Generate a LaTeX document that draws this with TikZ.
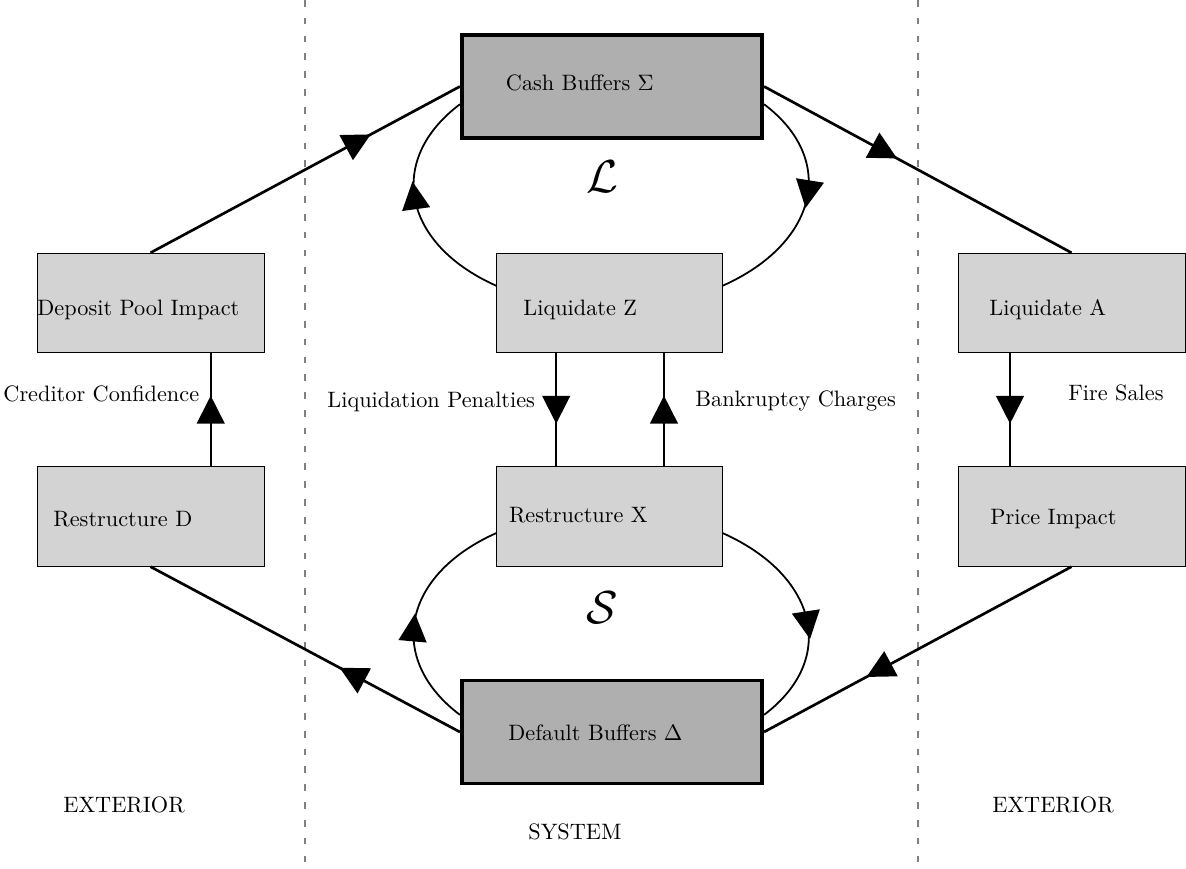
\documentclass[tikz,border=0pt]{standalone}
\usetikzlibrary{arrows.meta,decorations.markings}

\definecolor{boxgray}{RGB}{211,211,211}
\definecolor{buffergray}{RGB}{175,175,175}

\tikzset{
  box/.style={draw, fill=boxgray, minimum width=3.58cm, minimum height=1.57cm, inner sep=0pt},
  buffer/.style={draw, ultra thick, fill=buffergray, minimum width=4.74cm, minimum height=1.63cm, inner sep=0pt},
  txt/.style={anchor=west, inner sep=0pt},
  divider/.style={gray, line width=0.6pt, dash pattern=on 3pt off 5pt},
  midarrow/.style={postaction={decorate}, decoration={markings,
    mark=at position #1 with {\arrow[xshift=0.22cm]{Triangle[length=0.44cm, width=0.44cm]}}}},
}

\begin{document}
\begin{tikzpicture}

    \useasboundingbox (0,0) rectangle (18.707,-13.707);

    % system / exterior
    \draw[divider] (4.811,0) coordinate(d0) -- (4.811,-13.707) coordinate(d1);
    \draw[divider] (14.48,0) coordinate(d2) -- (14.48,-13.707) coordinate(d3);

    \node[buffer] (cash) at (9.653,-1.364) {};
    \node[buffer] (default) at (9.653,-11.546) {};
    \node[box, minimum width=3.55cm] (liqZ) at (9.613,-4.779) {};
    \node[box, minimum width=3.55cm] (restrX) at (9.613,-8.147) {};
    \node[box] (deposit) at (2.374,-4.779) {};
    \node[box] (restrD) at (2.374,-8.147) {};
    \node[box] (liqA) at (16.901,-4.779) {};
    \node[box] (price) at (16.901,-8.147) {};

    \node[txt] (cashlbl) at (7.973,-1.309) {Cash Buffers $\Sigma$};
    \node[txt] (liqZlbl) at (8.249,-4.890) {Liquidate Z};
    \node[txt] (restrXlbl) at (8.022,-8.123) {Restructure X};
    \node[txt] (defaultlbl) at (8.013,-11.562) {Default Buffers $\Delta$};
    \node[txt] (depositlbl) at (0.584,-4.890) {Deposit Pool Impact};
    \node[txt] (restrDlbl) at (0.836,-8.186) {Restructure D};
    \node[txt] (liqAlbl) at (15.599,-4.890) {Liquidate A};
    \node[txt] (pricelbl) at (15.615,-8.186) {Price Impact};

    \node[txt] (confidence) at (0.047,-6.215) {Creditor Confidence};
    \node[txt] (penalties) at (5.158,-6.341) {Liquidation Penalties};
    \node[txt] (charges) at (10.962,-6.325) {Bankruptcy Charges};
    \node[txt] (firesales) at (16.845,-6.199) {Fire Sales};

    \node (loopL) at (9.495,-2.792) {\huge $\mathcal{L}$};
    \node (loopS) at (9.495,-9.590) {\huge $\mathcal{S}$};

    \node (extL) at (1.956,-12.697) {EXTERIOR};
    \node (extR) at (16.609,-12.697) {EXTERIOR};
    \node (system) at (9.069,-13.123) {SYSTEM};

    % outer cycle
    \draw[very thick, midarrow=0.672] (deposit.north) -- (cash.west);
    \draw[very thick, midarrow=0.393] (cash.east) -- (liqA.north);
    \draw[very thick, midarrow=0.627] (price.south) -- (default.east);
    \draw[very thick, midarrow=0.349] (default.west) -- (restrD.south);

    \draw[thick, midarrow=0.5] ([xshift=0.95cm]restrD.north) -- ([xshift=0.95cm]deposit.south);
    \draw[thick, midarrow=0.5] ([xshift=-0.97cm]liqA.south) -- ([xshift=-0.97cm]price.north);
    \draw[thick, midarrow=0.5] ([xshift=-0.84cm]liqZ.south) -- ([xshift=-0.84cm]restrX.north);
    \draw[thick, midarrow=0.5] ([xshift=0.86cm]restrX.north) -- ([xshift=0.86cm]liqZ.south);

    % loops L and S
    \draw[thick, midarrow=0.544] ([yshift=0.27cm]liqZ.west) to[out=156, in=217, out looseness=1.42, in looseness=1.28] ([yshift=-0.28cm]cash.west);
    \draw[thick, midarrow=0.447] ([yshift=-0.28cm]cash.east) to[out=-37, in=24, out looseness=1.28, in looseness=1.42] ([yshift=0.27cm]liqZ.east);
    \draw[thick, midarrow=0.44] ([yshift=0.27cm]default.west) to[out=143, in=204, out looseness=1.28, in looseness=1.42] ([yshift=-0.26cm]restrX.west);
    \draw[thick, midarrow=0.555] ([yshift=-0.26cm]restrX.east) to[out=-24, in=37, out looseness=1.42, in looseness=1.28] ([yshift=0.27cm]default.east);

\end{tikzpicture}
\end{document}
